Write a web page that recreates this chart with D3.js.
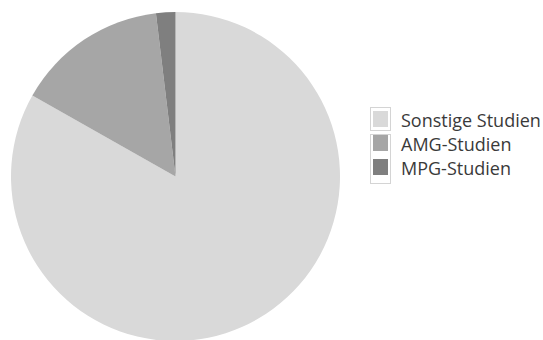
<!DOCTYPE html>
<html><head><meta charset="utf-8">
<script src="https://cdn.jsdelivr.net/npm/d3@7"></script>
<style>body{margin:0;background:#fff}svg{display:block}</style>
</head><body>
<script>
const categories = ["Sonstige Studien", "AMG-Studien", "MPG-Studien"];
const values = [83.2, 14.9, 1.9];
const colors = ["#d9d9d9", "#a6a6a6", "#7f7f7f"];

const W = 543, H = 340;
const svg = d3.select("body").append("svg").attr("width", W).attr("height", H);

const cx = 175.5, cy = 176.5, r = 164.5;
const data = categories.map((c, i) => ({cat: c, v: values[i], col: colors[i]}));
const pie = d3.pie().value(d => d.v).sort(null);
const arc = d3.arc().innerRadius(0).outerRadius(r);

svg.append("g").attr("transform", `translate(${cx},${cy})`)
  .selectAll("path").data(pie(data)).join("path")
  .attr("d", arc).attr("fill", d => d.data.col);

// legend
const lg = svg.append("g");
const color = d3.scaleOrdinal().domain(categories).range(colors);
const y = d3.scalePoint().domain(categories).range([119, 167]);
lg.append("rect").attr("x", 370.5).attr("y", 107.5).attr("width", 20).attr("height", 23)
  .attr("fill", "none").attr("stroke", "#d4d4d4");
lg.append("rect").attr("x", 370.5).attr("y", 134.5).attr("width", 20).attr("height", 49)
  .attr("fill", "none").attr("stroke", "#d4d4d4");
const rows = lg.selectAll("g.row").data(categories).join("g").attr("class", "row");
rows.append("rect").attr("x", 373).attr("y", d => y(d) - 8).attr("width", 15).attr("height", 16)
  .attr("fill", d => color(d));
rows.append("text").attr("x", 401).attr("y", d => y(d) + 7.5)
  .attr("font-family", "'Open Sans', sans-serif").attr("font-size", 18)
  .attr("fill", "#3a3a3a").text(d => d);
</script>
</body></html>
